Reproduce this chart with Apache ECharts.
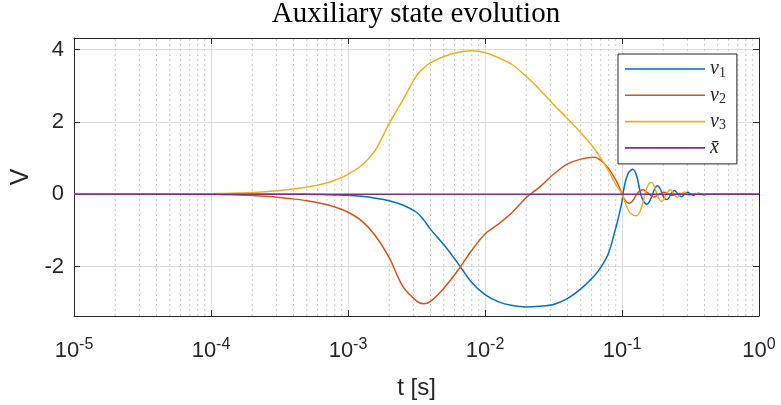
<!DOCTYPE html>
<html>
<head>
<meta charset="utf-8">
<script src="https://cdn.jsdelivr.net/npm/echarts@6/dist/echarts.min.js"></script>
<style>html,body{margin:0;padding:0;background:#fff}#c{width:781px;height:405px}</style>
</head>
<body>
<div id="c"></div>
<script>
// ---- data ----
const titleText = 'Auxiliary state evolution';
const xName = 't [s]';
const yName = 'V';
const xMin = 1e-5, xMax = 1;
const yMin = -3.37, yMax = 4.32;
const yTicks = [-2, 0, 2, 4];
const seriesNames = ['v1', 'v2', 'v3', 'xbar'];

// main transient: sample times given as log10(t [s])
const logTMain = [-5, -4.5, -4.0, -3.9, -3.8, -3.7, -3.6, -3.5, -3.4, -3.3, -3.2, -3.1,
  -3.0, -2.9, -2.8, -2.7, -2.6, -2.5, -2.45, -2.4, -2.3, -2.2, -2.1,
  -2.0, -1.9, -1.8, -1.7, -1.6, -1.5, -1.4, -1.3, -1.2, -1.15, -1.1, -1.05, -1.02, -1.0];
const v1Main = [0, 0, 0, 0, 0, 0, 0, 0, 0, 0, -0.01, -0.02,
  -0.03, -0.06, -0.11, -0.18, -0.3, -0.5, -0.7, -0.96, -1.4, -1.9, -2.43,
  -2.78, -2.98, -3.08, -3.12, -3.1, -3.05, -2.89, -2.62, -2.25, -2.0, -1.65, -1.0, -0.55, -0.2];
const v2Main = [0, 0, -0.01, -0.015, -0.025, -0.04, -0.06, -0.09, -0.13, -0.18, -0.25, -0.35,
  -0.5, -0.74, -1.15, -1.75, -2.55, -2.95, -3.03, -2.97, -2.6, -2.12, -1.57,
  -1.1, -0.82, -0.5, -0.1, 0.2, 0.55, 0.83, 0.97, 1.02, 0.92, 0.72, 0.42, 0.2, 0.0];
const v3Main = [0, 0, 0.015, 0.02, 0.03, 0.045, 0.07, 0.1, 0.14, 0.2, 0.27, 0.38,
  0.55, 0.8, 1.22, 1.95, 2.6, 3.28, 3.48, 3.63, 3.81, 3.92, 3.97,
  3.92, 3.77, 3.58, 3.26, 2.89, 2.48, 2.1, 1.7, 1.25, 0.96, 0.65, 0.3, 0.12, 0.0];

// decaying oscillation after t = 0.1 s
const t1Tail = [0.102, 0.106, 0.112, 0.12, 0.128, 0.137, 0.145, 0.152, 0.16, 0.167, 0.175, 0.182, 0.19, 0.197,
  0.205, 0.212, 0.22, 0.227, 0.242, 0.257, 0.272, 0.287, 0.302, 0.317, 0.332, 0.347, 0.362, 0.377, 0.392, 0.42, 0.5, 1];
const v1Tail = [0.05, 0.35, 0.6, 0.69, 0.5, 0, -0.22, -0.28, -0.18, 0, 0.18, 0.23, 0.15, 0,
  -0.12, -0.15, -0.1, 0, 0.1, 0, -0.07, 0, 0.05, 0, -0.035, 0, 0.025, 0, -0.015, 0, 0, 0];
const t2Tail = [0.106, 0.113, 0.12, 0.128, 0.136, 0.143, 0.15, 0.158, 0.166, 0.173, 0.18, 0.188,
  0.203, 0.218, 0.233, 0.248, 0.263, 0.28, 0.35, 1];
const v2Tail = [-0.18, -0.25, -0.18, 0, 0.1, 0.12, 0.07, 0, -0.07, -0.08, -0.04, 0,
  0.05, 0, -0.035, 0, 0.02, 0, 0, 0];
const t3Tail = [0.107, 0.115, 0.128, 0.138, 0.147, 0.155, 0.165, 0.173, 0.18, 0.188, 0.195, 0.203,
  0.21, 0.225, 0.24, 0.255, 0.27, 0.285, 0.3, 0.315, 0.33, 0.345, 0.36, 0.38, 0.42, 1];
const v3Tail = [-0.3, -0.52, -0.6, -0.4, 0, 0.25, 0.32, 0.2, 0, -0.15, -0.2, -0.12,
  0, 0.13, 0, -0.09, 0, 0.06, 0, -0.04, 0, 0.025, 0, -0.015, 0, 0];
const tXbar = [1e-5, 1];
const vXbar = [0, 0];

const colors = ['#0072BD', '#D95319', '#EDB120', '#7E2F8E'];

// ---- build ----
const tMain = logTMain.map(L => Math.pow(10, L));
function pairs(t, v) { return t.map((x, i) => [x, v[i]]); }
const d1 = pairs(tMain, v1Main).concat(pairs(t1Tail, v1Tail));
const d2 = pairs(tMain, v2Main).concat(pairs(t2Tail, v2Tail));
const d3 = pairs(tMain, v3Main).concat(pairs(t3Tail, v3Tail));
const d4 = pairs(tXbar, vXbar);

// minor (dotted) vertical grid at 2..9 x 10^d, drawn as broken line segments
const minorX = [];
for (let d = -5; d < 0; d++) for (let k = 2; k <= 9; k++) minorX.push(k * Math.pow(10, d));
const minorData = [];
minorX.forEach(v => { minorData.push([v, yMin], [v, yMax], [v, '-']); });

const axisColor = '#262626';
const sans = 'Liberation Sans, Arial, Helvetica, sans-serif';
const serif = 'Liberation Serif, Times New Roman, serif';

const legendLabels = {
  v1: '{i|v}{s|1}', v2: '{i|v}{s|2}', v3: '{i|v}{s|3}', xbar: '{i|x\u0304}'
};

function lineSeries(name, data, color) {
  return {
    name: name, type: 'line', data: data, symbol: 'none', showSymbol: false,
    smooth: 0.3,
    lineStyle: { color: color, width: 1.5 }, itemStyle: { color: color },
    emphasis: { disabled: true }, animation: false, z: 3
  };
}

const chart = echarts.init(document.getElementById('c'), null, { renderer: 'canvas' });
chart.setOption({
  animation: false,
  backgroundColor: '#fff',
  title: {
    text: titleText, left: 416, textAlign: 'center', top: 0, padding: 0,
    textStyle: { fontFamily: serif, fontSize: 29, fontWeight: 'normal', color: '#000' }
  },
  grid: { left: 74, right: 22, top: 38, bottom: 87, containLabel: false },
  legend: {
    data: seriesNames.map(n => ({ name: n, icon: 'rect' })),
    orient: 'vertical', left: 618, top: 54,
    padding: [5, 11, 6, 7], itemWidth: 80, itemHeight: 1.6, itemGap: 5.3,
    backgroundColor: '#fff', borderColor: axisColor, borderWidth: 1,
    selectedMode: false,
    formatter: n => legendLabels[n],
    textStyle: {
      color: axisColor,
      rich: {
        i: { fontFamily: serif, fontStyle: 'italic', fontSize: 20, lineHeight: 22 },
        s: { fontFamily: serif, fontSize: 14, verticalAlign: 'bottom' }
      }
    }
  },
  xAxis: [{
    type: 'log', logBase: 10, min: xMin, max: xMax,
    name: xName, nameLocation: 'middle', nameGap: 60,
    nameTextStyle: { fontFamily: sans, fontSize: 24, color: axisColor },
    axisLine: { show: true, onZero: false, lineStyle: { color: axisColor, width: 1 } },
    axisTick: { show: true, inside: true, length: 6, lineStyle: { color: axisColor } },
    axisLabel: {
      margin: 21, color: axisColor,
      formatter: v => '{b|10}{e|' + Math.round(Math.log10(v)) + '}',
      rich: {
        b: { fontFamily: sans, fontSize: 22, lineHeight: 28, color: axisColor },
        e: { fontFamily: sans, fontSize: 16, verticalAlign: 'top', color: axisColor }
      }
    },
    splitLine: { show: true, lineStyle: { color: '#dedede', width: 1 } }
  }, {
    type: 'log', logBase: 10, min: xMin, max: xMax, position: 'top',
    axisLine: { show: true, onZero: false, lineStyle: { color: axisColor, width: 1 } },
    axisTick: { show: true, inside: true, length: 6, lineStyle: { color: axisColor } },
    axisLabel: { show: false }, splitLine: { show: false }
  }],
  yAxis: [{
    type: 'value', min: yMin, max: yMax,
    name: yName, nameLocation: 'middle', nameGap: 34,
    nameTextStyle: { fontFamily: sans, fontSize: 25, color: axisColor },
    axisLine: { show: true, onZero: false, lineStyle: { color: axisColor, width: 1 } },
    axisTick: { show: true, inside: true, length: 6, customValues: yTicks, lineStyle: { color: axisColor } },
    axisLabel: { customValues: yTicks, margin: 10, fontFamily: sans, fontSize: 22, color: axisColor },
    splitLine: { show: true, lineStyle: { color: '#dedede', width: 1 } }
  }, {
    type: 'value', min: yMin, max: yMax, position: 'right',
    axisLine: { show: true, onZero: false, lineStyle: { color: axisColor, width: 1 } },
    axisTick: { show: true, inside: true, length: 6, customValues: yTicks, lineStyle: { color: axisColor } },
    axisLabel: { show: false }, splitLine: { show: false }
  }],
  series: [
    {
      name: 'minorGrid', type: 'line', data: minorData, z: 1, silent: true, animation: false,
      symbol: 'none', showSymbol: false, connectNulls: false, clip: true,
      lineStyle: { color: '#c8c8c8', width: 1, type: [2, 3] },
      emphasis: { disabled: true }, tooltip: { show: false }
    },
    lineSeries('v1', d1, colors[0]),
    lineSeries('v2', d2, colors[1]),
    lineSeries('v3', d3, colors[2]),
    lineSeries('xbar', d4, colors[3])
  ]
});
</script>
</body>
</html>
